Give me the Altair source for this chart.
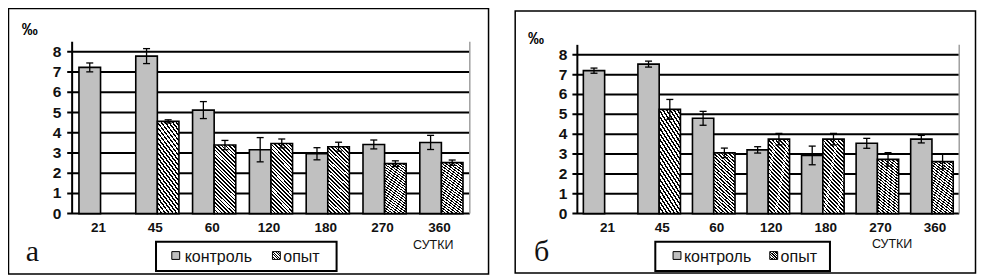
import altair as alt
import pandas as pd

# ---------------- data ----------------
days = ["21", "45", "60", "120", "180", "270", "360"]
series = ["контроль", "опыт"]
y_ticks = [0, 1, 2, 3, 4, 5, 6, 7, 8]

# panel а
a_ctrl = [7.23, 7.79, 5.12, 3.16, 2.96, 3.42, 3.52]
a_ctrl_err = [0.22, 0.37, 0.42, 0.60, 0.30, 0.22, 0.35]
a_opyt = [None, 4.56, 3.39, 3.47, 3.31, 2.47, 2.52]
a_opyt_err = [None, 0.08, 0.23, 0.22, 0.22, 0.14, 0.13]

# panel б
b_ctrl = [7.20, 7.53, 4.80, 3.21, 2.93, 3.54, 3.75]
b_ctrl_err = [0.13, 0.15, 0.35, 0.16, 0.47, 0.25, 0.19]
b_opyt = [None, 5.25, 3.06, 3.75, 3.75, 2.73, 2.62]
b_opyt_err = [None, 0.50, 0.24, 0.29, 0.29, 0.34, 0.37]

# ---------------- layout helpers ----------------
W, H = 969, 268
SX = (W - 1) / 981.0
SY = (H - 1) / 274.0
FONT = "Liberation Sans"


def rx(x):
    return (x - 1) * SX


def ry(y):
    return (y - 1) * SY


GRAY = "#c0c0c0"


def hatch(k, period, tmax):
    stops = []
    t = 0.0
    while t < tmax:
        stops += [
            alt.GradientStop(color="black", offset=min(t, 1)),
            alt.GradientStop(color="black", offset=min(t + period * 0.45, 1)),
            alt.GradientStop(color="white", offset=min(t + period * 0.45, 1)),
            alt.GradientStop(color="white", offset=min(t + period, 1)),
        ]
        t += period
    return alt.LinearGradient(gradient="linear", stops=stops, x1=0, y1=1, x2=1, y2=1 - k)


BAR_HATCH = hatch(3.2, 0.0155, 0.42)
LEG_HATCH = hatch(1.0, 0.16, 1.0)


def panel_df(ctrl, ctrl_err, opyt, opyt_err):
    rows = []
    for i, d in enumerate(days):
        for s, vals, errs in ((series[0], ctrl, ctrl_err), (series[1], opyt, opyt_err)):
            v = vals[i]
            if v is None:
                continue
            rows.append(dict(day=d, s=s, v=v, lo=v - errs[i], hi=v + errs[i]))
    return pd.DataFrame(rows)


def panel(df, g):
    xs = alt.Scale(domain=days, range=[rx(g["x0"]), rx(g["x1"])],
                   paddingInner=g["pi"], paddingOuter=g["po"])
    ys = alt.Scale(domain=[0, 8.5], range=[ry(212), ry(g["ytop"])], nice=False, zero=False)
    xo = alt.Scale(domain=series)
    X = alt.X("day:N", scale=xs, axis=None)
    XO = alt.XOffset("s:N", scale=xo)

    tick_df = pd.DataFrame({"v": y_ticks})
    edge_df = pd.DataFrame({"a": [0], "b": [8.5]})

    grid = alt.Chart(tick_df).mark_rule(color="black", strokeWidth=2).encode(
        y=alt.Y("v:Q", scale=ys, axis=None),
        x=alt.value(rx(g["x0"] - 5)), x2=alt.value(rx(g["x1"])))
    ylab = alt.Chart(tick_df).mark_text(align="right", baseline="middle", font=FONT,
                                        fontSize=15.5, fontWeight="bold", color="#111").encode(
        y=alt.Y("v:Q", scale=ys, axis=None), x=alt.value(rx(g["labx"])), text="v:Q")
    right_edge = alt.Chart(edge_df).mark_rule(color="#a0a0a0", strokeWidth=1.5).encode(
        y=alt.Y("a:Q", scale=ys, axis=None), y2="b:Q", x=alt.value(rx(g["x1"])))
    yaxis = alt.Chart(edge_df).mark_rule(color="black", strokeWidth=2).encode(
        y=alt.Y("a:Q", scale=ys, axis=None), y2="b:Q", x=alt.value(rx(g["x0"])))

    Y = alt.Y("v:Q", scale=ys, axis=None)
    ctrl = alt.Chart(df).transform_filter(alt.datum.s == series[0]).mark_bar(
        fill=GRAY, stroke="black", strokeWidth=1.6).encode(x=X, xOffset=XO, y=Y)
    opyt = alt.Chart(df).transform_filter(alt.datum.s == series[1]).mark_bar(
        fill=BAR_HATCH, stroke="black", strokeWidth=1.6).encode(x=X, xOffset=XO, y=Y)
    err = alt.Chart(df).mark_rule(color="black", strokeWidth=1.3).encode(
        x=X, xOffset=XO, y=alt.Y("lo:Q", scale=ys, axis=None), y2="hi:Q")
    cap_lo = alt.Chart(df).mark_tick(orient="horizontal", size=7, thickness=1.3,
                                     color="black", opacity=1).encode(
        x=X, xOffset=XO, y=alt.Y("lo:Q", scale=ys, axis=None))
    cap_hi = alt.Chart(df).mark_tick(orient="horizontal", size=7, thickness=1.3,
                                     color="black", opacity=1).encode(
        x=X, xOffset=XO, y=alt.Y("hi:Q", scale=ys, axis=None))
    xlab = alt.Chart(pd.DataFrame({"day": days})).mark_text(
        align="center", baseline="middle", font=FONT, fontSize=13.5, fontWeight="bold",
        color="#111", dx=g["dx"]).encode(x=X, text="day:N", y=alt.value(ry(226.5)))

    # decorations
    one = pd.DataFrame({"k": [0]})
    border = alt.Chart(one).mark_rect(fillOpacity=0, stroke="black", strokeWidth=1.5).encode(
        x=alt.value(rx(g["bx0"])), x2=alt.value(rx(g["bx1"])),
        y=alt.value(ry(g["by0"])), y2=alt.value(ry(g["by1"])))
    legbox = alt.Chart(one).mark_rect(fill="white", stroke="black", strokeWidth=2).encode(
        x=alt.value(rx(g["lx0"])), x2=alt.value(rx(g["lx1"])),
        y=alt.value(ry(241)), y2=alt.value(ry(271)))
    sq1 = alt.Chart(one).mark_rect(fill=GRAY, stroke="black", strokeWidth=1).encode(
        x=alt.value(rx(g["s1"])), x2=alt.value(rx(g["s1"] + 8)),
        y=alt.value(ry(251)), y2=alt.value(ry(259)))
    sq2 = alt.Chart(one).mark_rect(fill=LEG_HATCH, stroke="black", strokeWidth=1).encode(
        x=alt.value(rx(g["s2"])), x2=alt.value(rx(g["s2"] + 8)),
        y=alt.value(ry(251)), y2=alt.value(ry(259)))
    leg_df = pd.DataFrame({"name": series, "pos": [rx(g["t1"]), rx(g["t2"])]})
    legtxt = alt.Chart(leg_df).mark_text(align="left", baseline="middle", font=FONT,
                                         fontSize=16, color="#111").encode(
        x=alt.X("pos:Q", scale=None), y=alt.value(ry(257)), text="name:N")
    letter = alt.Chart(one).mark_text(text=g["letter"], align="left", baseline="alphabetic",
                                      font="Liberation Serif", fontSize=30, color="#111").encode(
        x=alt.value(rx(g["lett_x"])), y=alt.value(ry(261)))
    permille = alt.Chart(one).mark_text(text="‰", align="left", baseline="middle", font=FONT,
                                        fontSize=16, fontWeight="bold", color="black").encode(
        x=alt.value(rx(g["pm_x"])), y=alt.value(ry(g["pm_y"])))
    sutki = alt.Chart(one).mark_text(text="СУТКИ", align="center", baseline="middle", font=FONT,
                                     fontSize=12.5, color="#111").encode(
        x=alt.value(rx(g["su_x"])), y=alt.value(ry(g["su_y"])))

    return alt.layer(border, grid, right_edge, ctrl, opyt, err, cap_lo, cap_hi, yaxis,
                     ylab, xlab, legbox, sq1, sq2, legtxt, letter, permille, sutki)


geo_a = dict(x0=66, x1=469, pi=0.24, po=0.12, ytop=212 - 8.5 * 20.75, labx=55, dx=-2,
             bx0=1.5, bx1=488, by0=1.5, by1=274, lx0=151, lx1=334, s1=167, s2=269,
             t1=180, t2=280, letter="а", lett_x=19, pm_x=15, pm_y=24, su_x=432, su_y=244)
geo_b = dict(x0=578, x1=965, pi=0.22, po=0.11, ytop=212 - 8.5 * 20.375, labx=568, dx=3,
             bx0=515, bx1=981.5, by0=4, by1=273, lx0=657, lx1=834, s1=675, s2=773,
             t1=686, t2=784, letter="б", lett_x=534, pm_x=528, pm_y=33, su_x=897, su_y=243)

left = panel(panel_df(a_ctrl, a_ctrl_err, a_opyt, a_opyt_err), geo_a)
right = panel(panel_df(b_ctrl, b_ctrl_err, b_opyt, b_opyt_err), geo_b)

chart = alt.layer(left, right).resolve_scale(
    x="independent", y="independent", xOffset="independent"
).properties(
    width=W, height=H, padding=0, autosize=alt.AutoSizeParams(type="none"),
    background="white"
).configure_view(stroke=None)

chart.save("out.html", embed_options={"renderer": "svg", "actions": False})
